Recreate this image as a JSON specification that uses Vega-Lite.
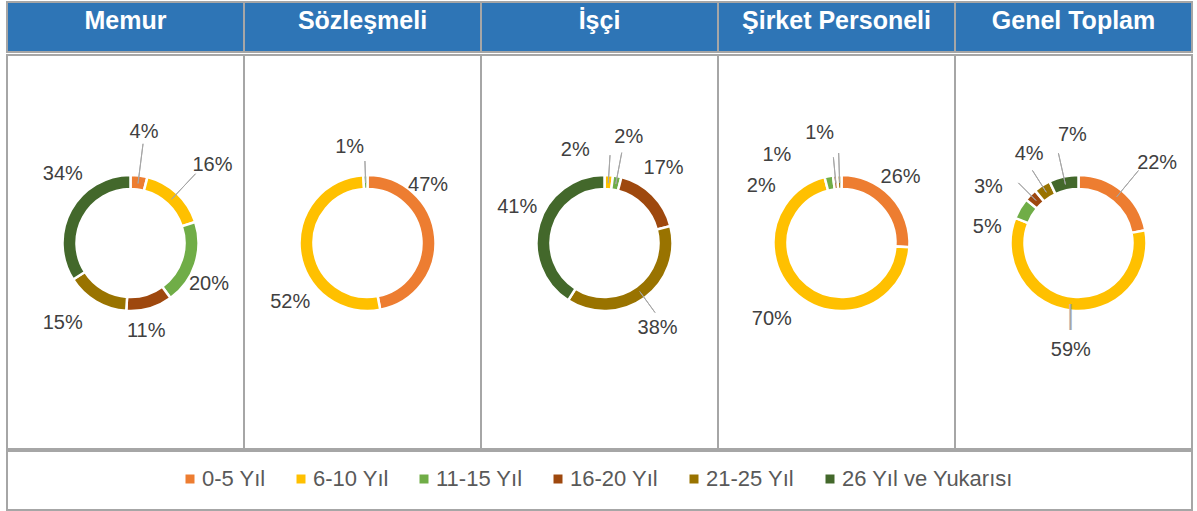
{
  "$schema": "https://vega.github.io/schema/vega-lite/v6.json",
  "padding": {"left": 5, "top": 0, "right": 2, "bottom": 0},
  "background": "white",
  "spacing": 0,
  "config": {
    "view": {"stroke": "#A6A6A6", "strokeWidth": 2},
    "style": {"view": {"stroke": "#A6A6A6", "strokeWidth": 2}},
    "font": "Liberation Sans, Arial, sans-serif",
    "legend": {
      "orient": "none", "legendX": 172, "legendY": 466, "direction": "horizontal", "columns": 6,
      "symbolType": "square", "symbolSize": 81, "symbolStrokeWidth": 0,
      "labelFont": "Liberation Sans, Arial, sans-serif",
      "labelFontSize": 22, "labelColor": "#595959", "labelOffset": 1, "columnPadding": 24,
      "padding": 0, "labelLimit": 0
    }
  },
  "datasets": {
    "d": [
      {"group": "Memur", "g": 0, "cat": "0-5 Yıl", "o": 0, "value": 0.04},
      {"group": "Memur", "g": 0, "cat": "6-10 Yıl", "o": 1, "value": 0.16},
      {"group": "Memur", "g": 0, "cat": "11-15 Yıl", "o": 2, "value": 0.20},
      {"group": "Memur", "g": 0, "cat": "16-20 Yıl", "o": 3, "value": 0.11},
      {"group": "Memur", "g": 0, "cat": "21-25 Yıl", "o": 4, "value": 0.15},
      {"group": "Memur", "g": 0, "cat": "26 Yıl ve Yukarısı", "o": 5, "value": 0.34},
      {"group": "Sözleşmeli", "g": 1, "cat": "0-5 Yıl", "o": 0, "value": 0.47},
      {"group": "Sözleşmeli", "g": 1, "cat": "6-10 Yıl", "o": 1, "value": 0.52},
      {"group": "Sözleşmeli", "g": 1, "cat": "11-15 Yıl", "o": 2, "value": 0.01},
      {"group": "İşçi", "g": 2, "cat": "6-10 Yıl", "o": 1, "value": 0.02},
      {"group": "İşçi", "g": 2, "cat": "11-15 Yıl", "o": 2, "value": 0.02},
      {"group": "İşçi", "g": 2, "cat": "16-20 Yıl", "o": 3, "value": 0.17},
      {"group": "İşçi", "g": 2, "cat": "21-25 Yıl", "o": 4, "value": 0.38},
      {"group": "İşçi", "g": 2, "cat": "26 Yıl ve Yukarısı", "o": 5, "value": 0.41},
      {"group": "Şirket Personeli", "g": 3, "cat": "0-5 Yıl", "o": 0, "value": 0.26},
      {"group": "Şirket Personeli", "g": 3, "cat": "6-10 Yıl", "o": 1, "value": 0.70},
      {"group": "Şirket Personeli", "g": 3, "cat": "11-15 Yıl", "o": 2, "value": 0.02},
      {"group": "Şirket Personeli", "g": 3, "cat": "16-20 Yıl", "o": 3, "value": 0.01},
      {"group": "Şirket Personeli", "g": 3, "cat": "21-25 Yıl", "o": 4, "value": 0.01},
      {"group": "Genel Toplam", "g": 4, "cat": "0-5 Yıl", "o": 0, "value": 0.22},
      {"group": "Genel Toplam", "g": 4, "cat": "6-10 Yıl", "o": 1, "value": 0.59},
      {"group": "Genel Toplam", "g": 4, "cat": "11-15 Yıl", "o": 2, "value": 0.05},
      {"group": "Genel Toplam", "g": 4, "cat": "16-20 Yıl", "o": 3, "value": 0.03},
      {"group": "Genel Toplam", "g": 4, "cat": "21-25 Yıl", "o": 4, "value": 0.04},
      {"group": "Genel Toplam", "g": 4, "cat": "26 Yıl ve Yukarısı", "o": 5, "value": 0.07}
    ]
  },
  "vconcat": [
    {
      "width": 1185,
      "height": 50,
      "data": {"values": [{"group": "Memur"}, {"group": "Sözleşmeli"}, {"group": "İşçi"}, {"group": "Şirket Personeli"}, {"group": "Genel Toplam"}]},
      "encoding": {
        "x": {"field": "group", "type": "nominal", "sort": null, "axis": null, "scale": {"paddingInner": 0, "paddingOuter": 0}}
      },
      "layer": [
        {"mark": {"type": "rect", "fill": "#2E75B6", "stroke": "#A6A6A6", "strokeWidth": 2}},
        {"mark": {"type": "text", "color": "white", "fontWeight": "bold", "fontSize": 25, "dy": -6}, "encoding": {"text": {"field": "group"}}}
      ]
    },
    {
      "data": {"name": "d"},
      "facet": {
        "column": {"field": "group", "type": "nominal", "sort": ["Memur", "Sözleşmeli", "İşçi", "Şirket Personeli", "Genel Toplam"], "title": null, "header": {"labels": false}}
      },
      "spacing": 0,
      "bounds": "flush",
      "resolve": {"scale": {"theta": "independent"}},
      "spec": {
        "width": 237,
        "height": 394,
        "view": {"stroke": "#A6A6A6", "strokeWidth": 2},
        "encoding": {
          "theta": {"field": "value", "type": "quantitative", "stack": true},
          "order": {"field": "o", "type": "quantitative", "sort": "ascending"},
          "color": {
            "field": "cat", "type": "nominal", "title": null,
            "scale": {
              "domain": ["0-5 Yıl", "6-10 Yıl", "11-15 Yıl", "16-20 Yıl", "21-25 Yıl", "26 Yıl ve Yukarısı"],
              "range": ["#ED7D31", "#FFC000", "#70AD47", "#9E480E", "#997300", "#43682B"]
            }
          }
        },
        "layer": [
          {"mark": {"type": "arc", "innerRadius": 54, "outerRadius": 68, "stroke": "white", "strokeWidth": 2.5, "xOffset": 5, "yOffset": -9}},
          {
            "mark": {
              "type": "arc", "innerRadius": 60, "padAngle": 3.1416, "fillOpacity": 0,
              "outerRadius": {"expr": "[[100,95,0,0,0,0],[0,0,82,0,0,0],[0,88,92,0,86,0],[0,0,0,86,90,0],[94,0,0,85,86,92]][datum.g][datum.o]"},
              "stroke": "#A6A6A6", "strokeWidth": 1,
              "strokeOpacity": {"expr": "[[1,1,0,0,0,0],[0,0,1,0,0,0],[0,1,1,0,1,0],[0,0,0,1,1,0],[1,0,0,1,1,1]][datum.g][datum.o]"},
              "xOffset": 5, "yOffset": -9
            }
          },
          {
            "mark": {
              "type": "text", "radius": 74, "fontSize": 27, "xOffset": 4, "yOffset": -10,
              "opacity": {"expr": "datum.g == 4 && datum.o == 1 ? 1 : 0"}
            },
            "encoding": {
              "text": {"value": "|"},
              "color": {"value": "#A6A6A6"}
            }
          },
          {
            "mark": {
              "type": "text", "radius": 92, "fontSize": 20, "xOffset": 5, "yOffset": -9,
              "dx": {"expr": "[[2,19,-9,-10,-21,13],[-31,14,-15,0,0,0],[0,-35,7,-6,-1,1],[-8,-11,-63,-56,-19,0],[20,1,-12,-25,0,14]][datum.g][datum.o]"},
              "dy": {"expr": "[[-20,-11,13,0,1,-25],[-49,47,-4,0,0,0],[0,-1,-16,-10,11,-10],[-3,5,33,4,-18,0],[-9,15,31,9,-11,-18]][datum.g][datum.o]"}
            },
            "encoding": {
              "text": {"field": "value", "type": "quantitative", "format": ".0%"},
              "color": {"value": "#404040"}
            }
          }
        ]
      }
    },
    {
      "width": 1185,
      "height": 59,
      "view": {"stroke": "#A6A6A6", "strokeWidth": 2},
      "data": {"values": [{"k": 1}]},
      "mark": {"type": "point", "opacity": 0},
      "encoding": {}
    }
  ]
}
